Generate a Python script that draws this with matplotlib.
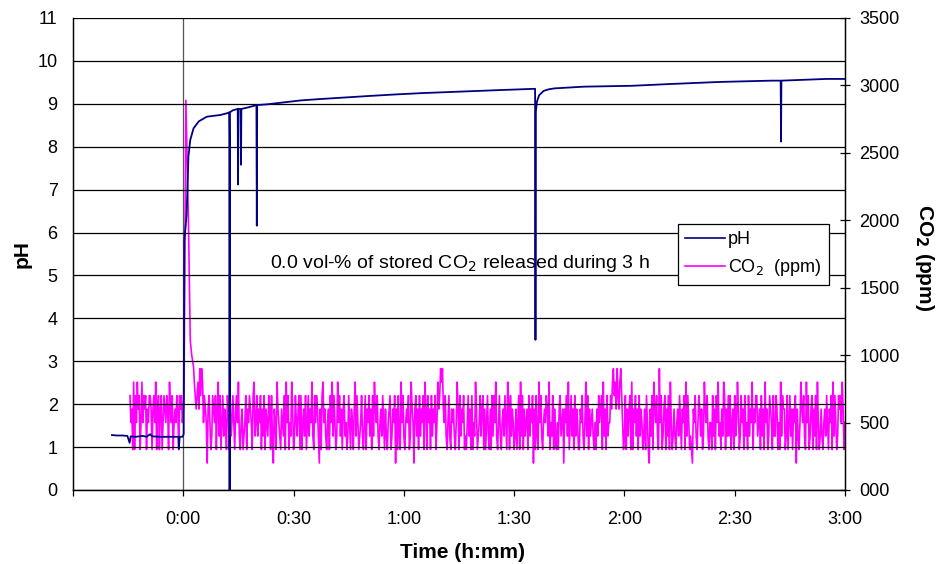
import matplotlib
matplotlib.use("Agg")
import matplotlib.pyplot as plt
from matplotlib.lines import Line2D
import numpy as np

plt.rcParams['font.family'] = ['Liberation Sans', 'DejaVu Sans']

# ---------------------------------------------------------------------------
# DATA  (time in minutes relative to start of release)
# ---------------------------------------------------------------------------
ph_time = [-19.4, -18.0, -16.5, -15.2, -14.6, -14.3, -13.0, -11.0, -10.0, -9.0,
           -8.5, -6.0, -3.0, -1.3, -1.2, -1.0, -0.2, 0.1, 0.3, 0.9,
           1.4, 1.9, 2.8, 4.2, 6.4, 10.1, 11.9, 12.5, 12.55, 12.6,
           12.65, 13.5, 14.8, 14.9, 15.0, 15.6, 15.7, 15.8, 17.8, 19.9,
           20.0, 20.1, 23.0, 27.0, 32.0, 37.0, 50.0, 58.0, 65.0, 74.0,
           86.0, 95.7, 95.8, 95.9, 96.2, 96.8, 98.0, 99.5, 101.0, 109.0,
           122.0, 132.0, 146.0, 160.0, 162.5, 162.6, 162.7, 175.0, 180.0]
ph_value = [1.28, 1.27, 1.27, 1.26, 1.10, 1.25, 1.24, 1.26, 1.24, 1.30,
            1.25, 1.24, 1.24, 1.24, 0.96, 1.24, 1.24, 1.30, 5.83, 6.40,
            7.77, 8.16, 8.43, 8.59, 8.70, 8.74, 8.78, 8.80, 8.20, 0.00,
            8.80, 8.85, 8.88, 7.12, 8.88, 8.88, 7.58, 8.88, 8.92, 8.97,
            6.16, 8.97, 8.99, 9.03, 9.08, 9.11, 9.18, 9.22, 9.25, 9.28,
            9.32, 9.35, 3.50, 8.82, 9.05, 9.20, 9.30, 9.34, 9.36, 9.40,
            9.42, 9.46, 9.51, 9.54, 9.54, 8.12, 9.54, 9.58, 9.58]

# CO2 readings in hundreds of ppm, one reading every 0.25 min
co2_step = 0.25
co2_pre_start = -14.5
co2_pre = ("7563837586" "7358576736" "5776367583" "6736735765" "7638657356"
           "576376756")
co2_peak_time = [0.2, 0.7, 1.4, 1.9, 2.3, 2.8, 3.0]
co2_peak_ppm = [700, 2890, 2000, 1110, 1000, 910, 800]
co2_post_start = 3.5
co2_post = ("6786979857" "6526753476" "5736847357" "4653763745" "7536758435"
            "6345736576" "5378457465" "7364736547" "6374265386" "5436547385"
            "7354863475" "4673735647" "3574658437" "5764263785" "6435637584"
            "7534857463" "6745347536" "5368475345" "7435736574" "6374865743"
            "5647536435" "6734657263" "7438574356" "5734865267" "4637465738"
            "6375637465" "7358679896" "5743574365" "6435863746" "5734357463"
            "7354863457" "4673635743" "6374758435" "7435647538" "6374653463"
            "5738473645" "6374657263" "7438574356" "5764835473" "6435367456"
            "2657483574" "6374653365" "7435847364" "5643536475" "6738463745"
            "5768978697" "6897534736" "4673836574" "6374653463" "7532647386"
            "5743957346" "7364738534" "6435647536" "5738475343" "2657435764"
            "6348657435" "5374637584" "5364873647" "4735637458" "6347563745"
            "3746583657" "7456374638" "5634765374" "4763538476" "6347357463"
            "6572643586" "5743857346" "7364738534" "6435647536" "5738475347"
            "6758635")

pre_vals = [int(c) * 100 for c in co2_pre]
post_vals = [int(c) * 100 for c in co2_post]
co2_time = (list(co2_pre_start + co2_step * np.arange(len(pre_vals)))
            + co2_peak_time
            + list(co2_post_start + co2_step * np.arange(len(post_vals))))
co2_ppm = pre_vals + co2_peak_ppm + post_vals

NAVY = "#000080"
MAGENTA = "#FF00FF"

# ---------------------------------------------------------------------------
# PLOT
# ---------------------------------------------------------------------------
fig = plt.figure(figsize=(9.37, 5.64), dpi=100)
ax = fig.add_axes([73 / 937, 1 - 490 / 564, 772 / 937, 472 / 564])
ax2 = ax.twinx()
ax.set_zorder(ax2.get_zorder() + 1)
ax.patch.set_visible(False)

ax2.plot(co2_time, co2_ppm, color=MAGENTA, lw=1.2)
ax.plot(ph_time, ph_value, color=NAVY, lw=1.3, zorder=4)
ax.axvline(0, color="#555555", lw=0.9, zorder=1)

ax.set_xlim(-30, 180)
ax.set_ylim(0, 11)
ax2.set_ylim(0, 3500)

ax.set_yticks(range(0, 12))
ax.yaxis.grid(True, color="black", lw=0.9)
ax.tick_params(axis='y', length=0, pad=11, labelsize=13)

xt = list(range(-30, 181, 30))
ax.set_xticks(xt)
ax.set_xticklabels(["" if m < 0 else f"{m // 60}:{m % 60:02d}" for m in xt])
ax.tick_params(axis='x', direction='out', length=4, width=0.9, pad=11, labelsize=13)

ax2.set_yticks(range(0, 3501, 500))
ax2.set_yticklabels([f"{v:03d}" for v in range(0, 3501, 500)])
ax2.tick_params(axis='y', direction='inout', length=7, width=0.9, pad=7, labelsize=13)

for a in (ax, ax2):
    for s in a.spines.values():
        s.set_linewidth(0.9)
ax.spines['top'].set_visible(False)
ax2.spines['top'].set_visible(False)

ax.text(23.7, 5.27, "0.0 vol-% of stored CO$_2$ released during 3 h",
        fontsize=14, va='center', ha='left')

handles = [Line2D([], [], color=NAVY, lw=1.2),
           Line2D([], [], color=MAGENTA, lw=1.2)]
leg = ax.legend(handles, ["pH", "CO$_2$  (ppm)"], loc='upper left',
                bbox_to_anchor=((678 - 73) / 772, (490 - 224) / 472),
                borderaxespad=0, fontsize=13, handlelength=2.2,
                handletextpad=0.2, borderpad=0.38, labelspacing=0.5,
                frameon=True, fancybox=False, framealpha=1)
leg.get_frame().set_edgecolor("black")
leg.get_frame().set_linewidth(0.9)

fig.text(22 / 937, 1 - 254 / 564, "pH", rotation=90, fontsize=15,
         fontweight='bold', ha='center', va='center')
fig.text(925 / 937, 1 - 258 / 564, "CO$_\\mathbf{2}$ (ppm)", rotation=270,
         fontsize=15, fontweight='bold', ha='center', va='center')
fig.text(463 / 937, 1 - 552 / 564, "Time (h:mm)", fontsize=15,
         fontweight='bold', ha='center', va='center')

fig.savefig("out.png", dpi=100)
